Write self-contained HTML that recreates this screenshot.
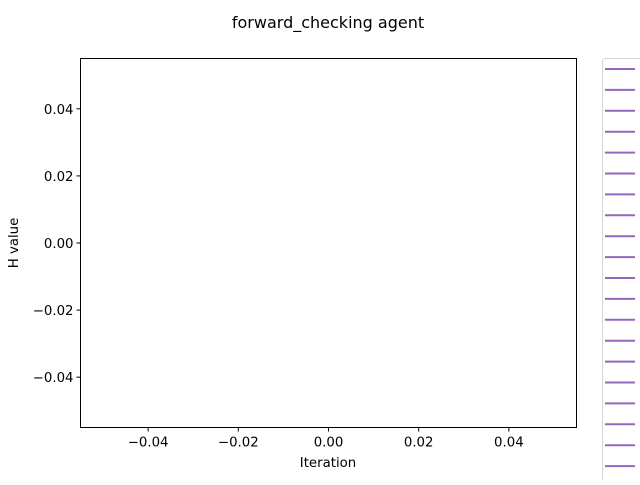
<!DOCTYPE html>
<html><head><meta charset="utf-8"><style>
body{margin:0;background:#fff;font-family:"Liberation Sans","DejaVu Sans",sans-serif}
svg text{font-family:"DejaVu Sans","Liberation Sans",sans-serif;font-size:13.3px;fill:#000}
</style></head><body>
<svg id="c" width="640" height="480" xmlns="http://www.w3.org/2000/svg">
<rect width="640" height="480" fill="#fff"/>
<text x="328" y="28" text-anchor="middle" style="font-size:16px">forward_checking agent</text>
<g id="plot"></g>
</svg>
<script>
const xTicks=[-0.04,-0.02,0.00,0.02,0.04];
const yTicks=[-0.04,-0.02,0.00,0.02,0.04];
const xLabels=["−0.04","−0.02","0.00","0.02","0.04"];
const yLabels=["−0.04","−0.02","0.00","0.02","0.04"];
const legendCount=20;
const X0=80.5,X1=576.5,Y0=58.5,Y1=427.5;
const xs=v=>X0+(v+0.055)/0.11*(X1-X0);
const ys=v=>Y1-(v+0.055)/0.11*(Y1-Y0);
const NS="http://www.w3.org/2000/svg";
const g=document.getElementById('plot');
function mk(t,a){const e=document.createElementNS(NS,t);for(const k in a)e.setAttribute(k,a[k]);g.appendChild(e);return e;}
let r=mk('rect',{x:X0,y:Y0,width:X1-X0,height:Y1-Y0,fill:'none',stroke:'#000','stroke-width':1});


xTicks.forEach((v,i)=>{const x=xs(v);
 let l=mk('line',{x1:x,x2:x,y1:Y1,y2:Y1+4,stroke:'#000'});
 
 
 let t=mk('text',{x:x,y:Y1+19,'text-anchor':'middle'});t.textContent=xLabels[i];
 
 });
yTicks.forEach((v,i)=>{const y=ys(v);
 let l=mk('line',{x1:X0-4,x2:X0,y1:y,y2:y,stroke:'#000'});
 
 
 let t=mk('text',{x:X0-7,y:y+5,'text-anchor':'end'});t.textContent=yLabels[i];
 
 });
let xt=mk('text',{x:328,y:467,'text-anchor':'middle'});xt.textContent='Iteration';


let yt=mk('text',{x:18,y:243,'text-anchor':'middle',transform:'rotate(-90 18 243)'});yt.textContent='H value';


let lb=mk('rect',{x:602.5,y:58.5,width:60,height:440,rx:3,fill:'#fff',stroke:'#d6d6d6'});


for(let i=0;i<legendCount;i++){const y=69+i*20.9;
 let l=mk('line',{x1:605,x2:635,y1:y,y2:y,stroke:'#9467bd','stroke-width':2});
 
 }
</script>
</body></html>
